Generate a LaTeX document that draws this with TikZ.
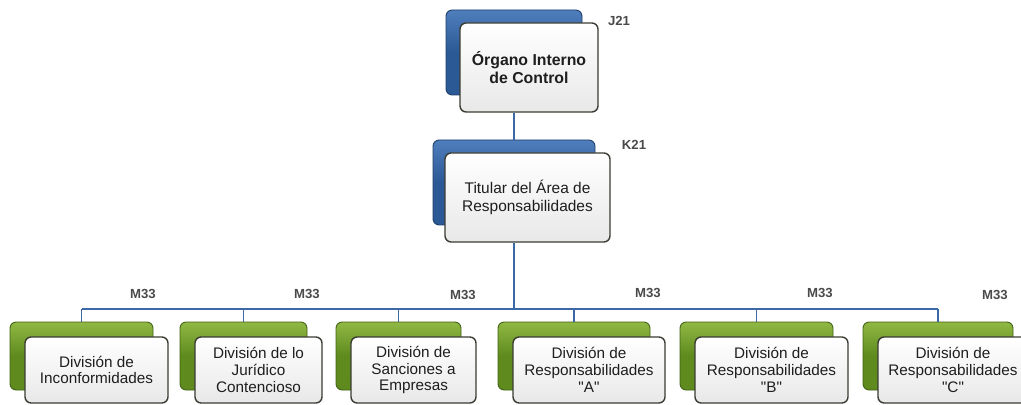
\documentclass[tikz,border=0pt]{standalone}
\usepackage{fontspec}
\setmainfont{Liberation Sans}
\usetikzlibrary{positioning}

\definecolor{blueback}{HTML}{2B5996}
\definecolor{bluelight}{HTML}{4F7EBC}
\definecolor{greenback}{HTML}{5E8A1E}
\definecolor{greenlight}{HTML}{90B843}
\definecolor{linkblue}{HTML}{3C69A6}
\definecolor{frameg}{HTML}{3C3C34}
\definecolor{txtg}{HTML}{1E1E1E}
\definecolor{codeg}{HTML}{4A4A4A}

\newcommand{\pxu}{0.02cm}

\begin{document}
\begin{tikzpicture}[x=0.02cm, y=-0.02cm,
    backbox/.style={rectangle, rounded corners=3.5pt, inner sep=0pt, line width=0.5pt},
    backblue/.style={backbox, draw=blueback!70!black, top color=bluelight, bottom color=blueback, middle color=blueback},
    backgreen/.style={backbox, draw=greenback!70!black, top color=greenlight, bottom color=greenback, middle color=greenback},
    frontbox/.style={rectangle, rounded corners=3.5pt, inner sep=1pt, line width=0.8pt, draw=frameg,
      top color=white, bottom color=black!9, align=center, text=txtg,
      font=\fontsize{8.7}{9.5}\selectfont},
    codelabel/.style={font=\fontsize{7.5}{8}\selectfont\bfseries, text=codeg},
    link/.style={draw=linkblue, line width=1.1pt}]

  \useasboundingbox (0,0) rectangle (1021,405);

  % nivel J21
  \node[backblue, minimum width=136*\pxu, minimum height=85*\pxu] (jback) at (514,52.5) {};
  \node[frontbox, minimum width=138*\pxu, minimum height=89*\pxu,
    font=\fontsize{9}{10}\selectfont\bfseries] (jfront) at (529,67.5) {Órgano Interno\\de Control};
  \node[codelabel] (jcode) at (619,21) {J21};

  % nivel K21
  \node[backblue, minimum width=162*\pxu, minimum height=85*\pxu] (kback) at (514,182.5) {};
  \node[frontbox, minimum width=165*\pxu, minimum height=89*\pxu,
    font=\fontsize{8.8}{10}\selectfont] (kfront) at (527.5,197.5) {Titular del Área de\\Responsabilidades};
  \node[codelabel] (kcode) at (634,145) {K21};

  \coordinate (bar) at (514,309);

  % divisiones M33
  \foreach \cx/\w/\i/\lx/\ly/\txt in {
      81.5/143/1/143/294/{División de\\Inconformidades},
      243.5/127/2/307/294/{División de lo\\Jurídico\\Contencioso},
      398.5/125/3/463/295/{División de\\Sanciones a\\Empresas},
      574/152/4/648/293/{División de\\Responsabilidades\\\textquotedbl A\textquotedbl},
      756.5/153/5/820/293/{División de\\Responsabilidades\\\textquotedbl B\textquotedbl},
      938/150/6/995/295/{División de\\Responsabilidades\\\textquotedbl C\textquotedbl}} {
    \node[backgreen, minimum width=\w*\pxu, minimum height=68*\pxu] (b\i) at (\cx,356) {};
    \node[frontbox, minimum width=\w*\pxu, minimum height=66*\pxu] (f\i) at (\cx+15,370) {\txt};
    \node[codelabel] (m\i) at (\lx,\ly) {M33};
    \draw[link] (bar -| b\i) -- (b\i.north);
  }

  % conectores
  \draw[link] (jback |- jfront.south) -- (kback.north);
  \draw[link] (kback |- kfront.south) -- (bar);
  \draw[link] (bar -| b1) -- (bar -| b6);
\end{tikzpicture}
\end{document}
